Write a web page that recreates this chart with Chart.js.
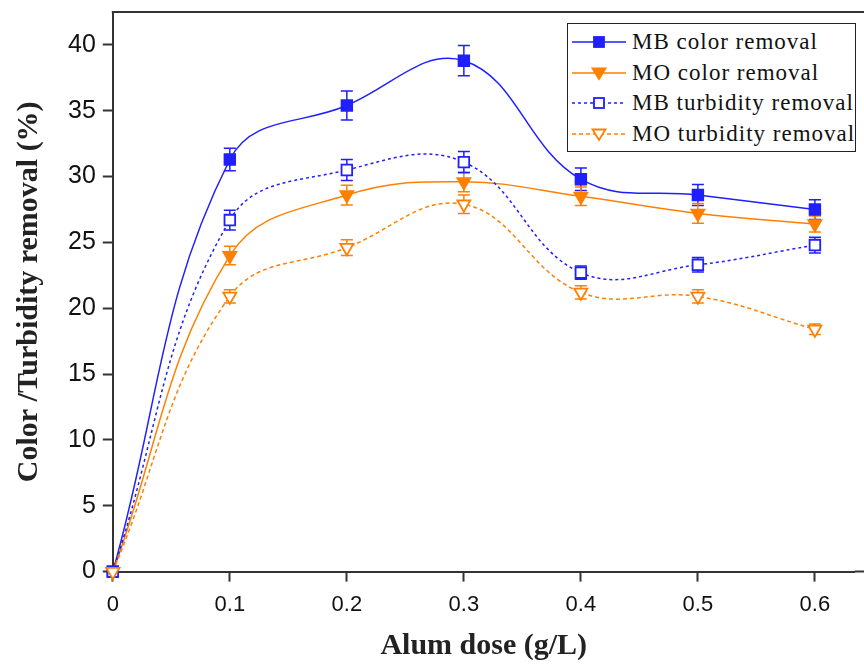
<!DOCTYPE html>
<html>
<head>
<meta charset="utf-8">
<script src="https://cdn.jsdelivr.net/npm/chart.js@4"></script>
<style>
  body { margin: 0; background: #fff; }
  #wrap { position: relative; width: 864px; height: 664px; }
  #legend {
    position: absolute; left: 567px; top: 23px; width: 289px; height: 129px;
    border: 1.5px solid #222; box-sizing: border-box; background: #fff;
    font-family: 'Liberation Serif', 'Times New Roman', serif; font-size: 23px; color: #111;
    letter-spacing: 1px; padding-top: 3px;
  }
  #legend .row { display: flex; align-items: center; height: 30.5px; white-space: nowrap; }
  #legend svg { margin-left: 4px; margin-right: 6px; flex: none; }
</style>
</head>
<body>
<div id="wrap">
  <canvas id="chart"></canvas>
  <div id="legend"></div>
</div>
<script>
// alum dose (g/L)
const doses = [0, 0.1, 0.2, 0.3, 0.4, 0.5, 0.6];

const mbColor = [0, 31.3, 35.4, 38.8, 29.8, 28.6, 27.5];
const mbColorErr = [0, 0.85, 1.1, 1.15, 0.85, 0.8, 0.75];

const moColor = [0, 24.0, 28.6, 29.6, 28.5, 27.2, 26.4];
const moColorErr = [0, 0.7, 0.75, 0.75, 0.7, 0.75, 0.6];

const mbTurb = [0, 26.7, 30.5, 31.1, 22.7, 23.3, 24.8];
const mbTurbErr = [0, 0.75, 0.8, 0.8, 0.5, 0.55, 0.6];

const moTurb = [0, 20.9, 24.6, 27.9, 21.2, 20.9, 18.4];
const moTurbErr = [0, 0.5, 0.6, 0.7, 0.5, 0.5, 0.4];

const blue = '#1f1fff';
const orange = '#ff8000';

const toPoints = (vals) => doses.map((d, i) => ({ x: d, y: vals[i] }));

const series = [
  { label: 'MB color removal', data: mbColor, err: mbColorErr, color: blue, dash: [], style: 'rect', rot: 0, fill: blue },
  { label: 'MO color removal', data: moColor, err: moColorErr, color: orange, dash: [], style: 'triangle', rot: 180, fill: orange },
  { label: 'MB turbidity removal', data: mbTurb, err: mbTurbErr, color: blue, dash: [3, 3], style: 'rect', rot: 0, fill: '#fff' },
  { label: 'MO turbidity removal', data: moTurb, err: moTurbErr, color: orange, dash: [4, 3], style: 'triangle', rot: 180, fill: '#fff' },
];

// error bars + top frame line (and axis lines run to the canvas edge)
const errorBars = {
  id: 'errorBars',
  beforeDatasetsDraw(chart) {
    const { ctx, scales: { x, y } } = chart;
    ctx.save();
    chart.data.datasets.forEach((ds) => {
      ctx.strokeStyle = ds.borderColor;
      ctx.lineWidth = 1.5;
      ds.errors.forEach((e, i) => {
        if (!e) return;
        const px = x.getPixelForValue(ds.data[i].x);
        const top = y.getPixelForValue(ds.data[i].y + e);
        const bot = y.getPixelForValue(ds.data[i].y - e);
        ctx.beginPath();
        ctx.moveTo(px, top); ctx.lineTo(px, bot);
        ctx.moveTo(px - 6, top); ctx.lineTo(px + 6, top);
        ctx.moveTo(px - 6, bot); ctx.lineTo(px + 6, bot);
        ctx.stroke();
      });
    });
    ctx.restore();
  },
  afterDraw(chart) {
    const { ctx, chartArea, width } = chart;
    ctx.save();
    ctx.strokeStyle = '#333';
    ctx.lineWidth = 2;
    ctx.beginPath();
    ctx.moveTo(chartArea.left - 1, chartArea.top);
    ctx.lineTo(width, chartArea.top);
    ctx.moveTo(chartArea.right, chartArea.bottom);
    ctx.lineTo(width, chartArea.bottom);
    ctx.stroke();
    ctx.restore();
  }
};

const ctx = document.getElementById('chart').getContext('2d');
new Chart(ctx, {
  type: 'line',
  data: {
    datasets: series.map((s, i) => ({
      label: s.label,
      data: toPoints(s.data),
      errors: s.err,
      order: -i, // later series drawn on top
      borderColor: s.color,
      borderWidth: 1.5,
      borderDash: s.dash,
      tension: 0.4,
      clip: false,
      pointStyle: s.style,
      pointRotation: s.rot,
      pointRadius: 7.5,
      pointBackgroundColor: s.fill,
      pointBorderColor: s.color,
      pointBorderWidth: 1.8,
      fill: false,
    })),
  },
  options: {
    responsive: true,
    maintainAspectRatio: false,
    animation: false,
    layout: { padding: { left: 5, top: 12, right: 0, bottom: 0 } },
    scales: {
      x: {
        type: 'linear',
        min: 0,
        max: 0.634,
        afterBuildTicks: (scale) => {
          scale.ticks = doses.map(v => ({ value: v }));
        },
        ticks: {
          callback: (v) => (v === 0 ? '0' : v.toFixed(1)),
          font: { family: "'Liberation Sans', Arial, sans-serif", size: 22 },
          color: '#111',
          padding: 10,
          maxRotation: 0,
        },
        grid: { drawOnChartArea: false, drawTicks: true, tickLength: 10, tickColor: '#333', tickWidth: 2 },
        border: { color: '#333', width: 2 },
        title: {
          display: true,
          text: 'Alum dose (g/L)',
          font: { family: "'Liberation Serif', 'Times New Roman', serif", size: 30, weight: 'bold' },
          color: '#222',
          padding: { top: 0, bottom: 0 },
        },
      },
      y: {
        min: 0,
        max: 42.5,
        afterBuildTicks: (scale) => {
          scale.ticks = scale.ticks.filter(t => Math.abs(t.value % 5) < 1e-6);
        },
        afterFit: (scale) => {
          scale.paddingTop = 0;
        },
        ticks: {
          stepSize: 5,
          font: { family: "'Liberation Sans', Arial, sans-serif", size: 25 },
          color: '#111',
          padding: 7,
        },
        grid: { drawOnChartArea: false, drawTicks: true, tickLength: 10, tickColor: '#333', tickWidth: 2 },
        border: { color: '#333', width: 2 },
        title: {
          display: true,
          text: 'Color /Turbidity removal (%)',
          font: { family: "'Liberation Serif', 'Times New Roman', serif", size: 30, weight: 'bold' },
          color: '#222',
          padding: { top: 6, bottom: 14 },
        },
      },
    },
    plugins: {
      legend: { display: false },
      tooltip: { enabled: false },
    },
  },
  plugins: [errorBars],
});

// legend: line sample with marker, then text
const legendEl = document.getElementById('legend');
series.forEach(s => {
  const row = document.createElement('div');
  row.className = 'row';
  const dash = s.dash.length ? `stroke-dasharray="${s.dash.join(',')}"` : '';
  const marker = s.style === 'rect'
    ? `<rect x="22" y="7" width="10" height="10" fill="${s.fill}" stroke="${s.color}" stroke-width="1.8"/>`
    : `<polygon points="20.5,7.5 33.5,7.5 27,18" fill="${s.fill}" stroke="${s.color}" stroke-width="1.8"/>`;
  row.innerHTML = `<svg width="54" height="24"><line x1="0" y1="12" x2="54" y2="12" stroke="${s.color}" stroke-width="1.5" ${dash}/>${marker}</svg><span>${s.label}</span>`;
  legendEl.appendChild(row);
});
</script>
</body>
</html>
